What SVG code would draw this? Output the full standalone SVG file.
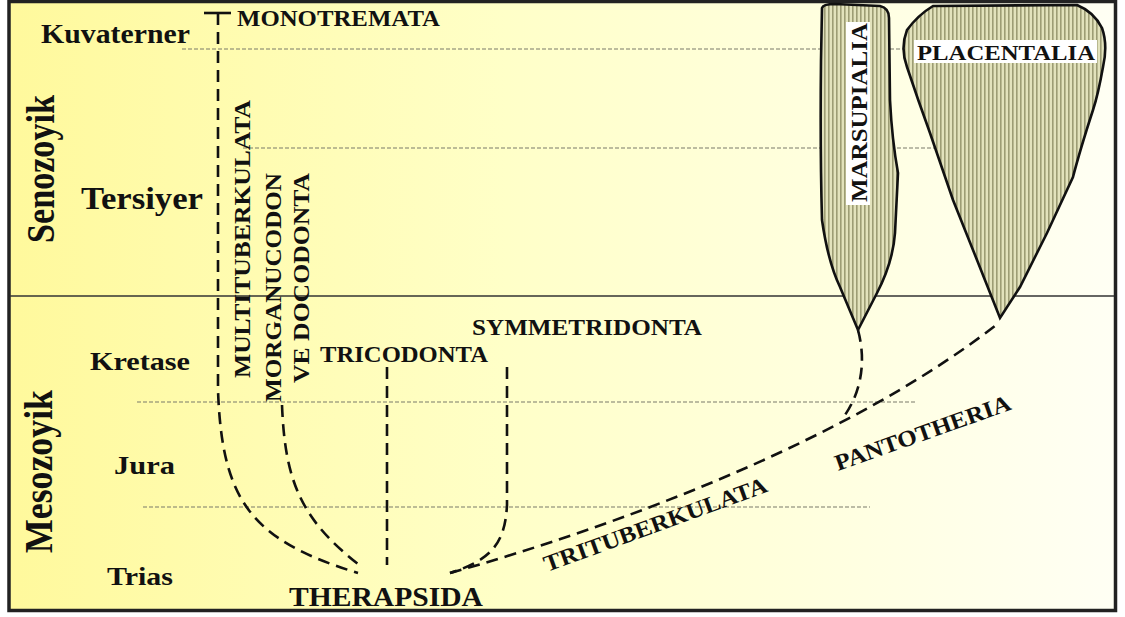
<svg xmlns="http://www.w3.org/2000/svg" width="1125" height="617" viewBox="0 0 1125 617">
<defs>
<linearGradient id="bg" x1="0" y1="0" x2="1" y2="0">
<stop offset="0" stop-color="#fff99c"/>
<stop offset="0.45" stop-color="#ffffc8"/>
<stop offset="1" stop-color="#fffff4"/>
</linearGradient>
<pattern id="stripes" width="4" height="10" patternUnits="userSpaceOnUse">
<rect width="4" height="10" fill="#e2e2bc"/>
<rect x="0" width="1.6" height="10" fill="#9c9c74"/>
</pattern>
<style>
.t{font-family:"Liberation Serif","Times New Roman",serif;font-weight:bold;fill:#111}
.grid{stroke:#7a7a6a;stroke-width:1.2;stroke-dasharray:4 2;fill:none}
.con{stroke:#111;stroke-width:2.6;stroke-dasharray:12 7;fill:none}
.shape{fill:url(#stripes);stroke:#111;stroke-width:2.6}
.lbl{fill:#fff}
</style>
</defs>
<rect width="1125" height="617" fill="#fff"/>
<rect x="9" y="1.5" width="1106.5" height="609" fill="url(#bg)" stroke="#222" stroke-width="3.5"/>

<g id="grid">
<line class="grid" x1="182" y1="49" x2="910" y2="49"/>
<line class="grid" x1="243" y1="148" x2="935" y2="148"/>
<line x1="10" y1="296" x2="1114" y2="296" stroke="#333" stroke-width="1.5"/>
<line class="grid" x1="137" y1="402" x2="915" y2="402"/>
<line class="grid" x1="143" y1="507" x2="870" y2="507"/>
</g>

<g id="periods">
<text class="t" x="41" y="43" font-size="27" textLength="149" lengthAdjust="spacingAndGlyphs">Kuvaterner</text>
<text class="t" x="81" y="209" font-size="31" textLength="122" lengthAdjust="spacingAndGlyphs">Tersiyer</text>
<text class="t" x="90" y="370" font-size="26" textLength="100" lengthAdjust="spacingAndGlyphs">Kretase</text>
<text class="t" x="114" y="474" font-size="26" textLength="61" lengthAdjust="spacingAndGlyphs">Jura</text>
<text class="t" x="107" y="585" font-size="26" textLength="66" lengthAdjust="spacingAndGlyphs">Trias</text>
<text class="t" font-size="33" textLength="148" lengthAdjust="spacingAndGlyphs" transform="translate(54,243) scale(1.2,1) rotate(-90)">Senozoyik</text>
<text class="t" font-size="33" textLength="163" lengthAdjust="spacingAndGlyphs" transform="translate(52,553) scale(1.2,1) rotate(-90)">Mesozoyik</text>
</g>

<g id="connectors">
<line x1="204" y1="13" x2="231" y2="13" stroke="#111" stroke-width="2.6"/>
<path class="con" d="M218,13 L218,390 C222,500 250,540 358,573"/>
<path class="con" d="M282,405 C285,480 300,520 362,567"/>
<path class="con" d="M387,367 L387,565"/>
<path class="con" d="M507,367 L507,505 C505,545 490,560 450,573"/>
<path class="con" d="M450,573 C620,525 850,440 1000,322"/>
<path class="con" d="M858,330 C866,360 862,390 845,415"/>
</g>

<g id="marsupialia">
<path class="shape" d="M822,8 Q823,4 835,4 L880,6 Q889,8 889,18 L890,100 Q892,140 898,173 L895,233 Q893,262 877,293 L858,330 L840,287 Q828,262 822,220 Q820,150 821,60 Z"/>
<rect class="lbl" x="846" y="22" width="24" height="183"/>
<text class="t" font-size="23" textLength="179" lengthAdjust="spacingAndGlyphs" transform="translate(867,202) rotate(-90)">MARSUPIALIA</text>
</g>

<g id="placentalia">
<path class="shape" d="M933,6 L1077,5 Q1094,12 1102,28 Q1108,45 1103,67 Q1098,95 1093,110 Q1080,150 1073,177 Q1060,205 1047,233 L1020,287 L1000,318 L977,260 L953,200 L930,133 Q918,100 907,67 Q900,48 907,30 Q918,15 933,6 Z"/>
<rect class="lbl" x="914" y="40" width="183" height="23"/>
<text class="t" x="917" y="60" font-size="22" textLength="178" lengthAdjust="spacingAndGlyphs">PLACENTALIA</text>
</g>

<g id="taxa">
<text class="t" x="237" y="26" font-size="24" textLength="203" lengthAdjust="spacingAndGlyphs">MONOTREMATA</text>
<text class="t" font-size="24" textLength="278" lengthAdjust="spacingAndGlyphs" transform="translate(250,378) rotate(-90)">MULTITUBERKULATA</text>
<text class="t" font-size="24" textLength="229" lengthAdjust="spacingAndGlyphs" transform="translate(281,402) rotate(-90)">MORGANUCODON</text>
<text class="t" font-size="24" textLength="210" lengthAdjust="spacingAndGlyphs" transform="translate(309,383) rotate(-90)">VE DOCODONTA</text>
<text class="t" x="320" y="362" font-size="24" textLength="168" lengthAdjust="spacingAndGlyphs">TRICODONTA</text>
<text class="t" x="472" y="335" font-size="24" textLength="230" lengthAdjust="spacingAndGlyphs">SYMMETRIDONTA</text>
<text class="t" x="289" y="606" font-size="28" textLength="194" lengthAdjust="spacingAndGlyphs">THERAPSIDA</text>
<text class="t" font-size="23" textLength="236" lengthAdjust="spacingAndGlyphs" transform="translate(547,572) rotate(-20)">TRITUBERKULATA</text>
<text class="t" font-size="23" textLength="185" lengthAdjust="spacingAndGlyphs" transform="translate(838,471) rotate(-19.5)">PANTOTHERIA</text>
</g>
</svg>
